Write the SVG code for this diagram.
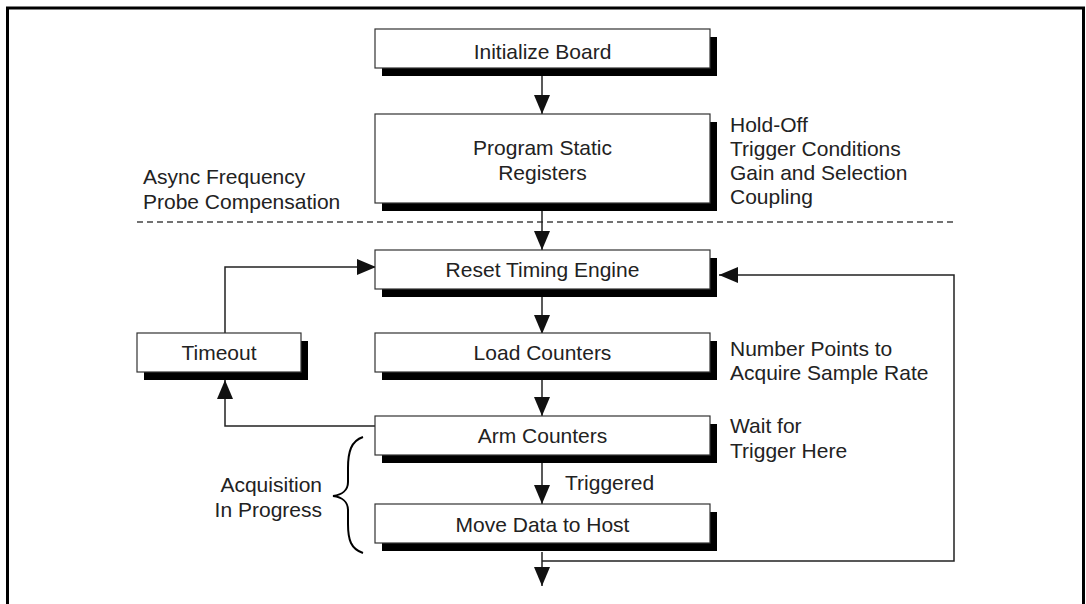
<svg xmlns="http://www.w3.org/2000/svg" width="1086" height="604" viewBox="0 0 1086 604">
  <style>
    .box { fill: #ffffff; stroke: #333333; stroke-width: 1.2; }
    .shadow { fill: #000000; }
    .lbl { font-family: "Liberation Sans", Arial, sans-serif; font-size: 21px; fill: #222222; }
    .mid { text-anchor: middle; }
    .end { text-anchor: end; }
    .wire { fill: none; stroke: #222222; stroke-width: 1.5; }
    .brace { fill: none; stroke: #000000; stroke-width: 2; }
    .frame { fill: none; stroke: #000000; stroke-width: 3; }
    .dash { fill: none; stroke: #444444; stroke-width: 1.5; stroke-dasharray: 6 4; }
  </style>
  <defs>
    <marker id="arrow" markerUnits="userSpaceOnUse" markerWidth="19" markerHeight="16" viewBox="0 0 19 16" refX="19" refY="8" orient="auto">
      <path d="M0,0 L19,8 L0,16 Z" fill="#111111"/>
    </marker>
  </defs>

  <rect width="1086" height="604" fill="#ffffff"/>

  <!-- page frame, open at the bottom -->
  <path class="frame" d="M7.5,604 V8 H1083.5 V604"/>

  <!-- boundary between static setup and the acquisition loop -->
  <line class="dash" x1="137" y1="222" x2="954" y2="222"/>

  <g id="connectors">
    <line class="wire" x1="542" y1="76" x2="542" y2="114" marker-end="url(#arrow)"/>
    <line class="wire" x1="542" y1="210" x2="542" y2="250" marker-end="url(#arrow)"/>
    <line class="wire" x1="542" y1="297" x2="542" y2="334" marker-end="url(#arrow)"/>
    <line class="wire" x1="542" y1="380" x2="542" y2="416" marker-end="url(#arrow)"/>
    <line class="wire" x1="542" y1="463" x2="542" y2="504" marker-end="url(#arrow)"/>
    <line class="wire" x1="542" y1="552" x2="542" y2="586" marker-end="url(#arrow)"/>
    <polyline class="wire" points="542,561 954,561 954,275 719,275" marker-end="url(#arrow)"/>
    <polyline class="wire" points="375,426 225,426 225,380" marker-end="url(#arrow)"/>
    <polyline class="wire" points="225,333 225,267 376,267" marker-end="url(#arrow)"/>
  </g>

  <g id="initialize-board">
    <rect class="shadow" x="382" y="37" width="335" height="39"/>
    <rect class="box" x="375" y="29" width="335" height="39"/>
    <text class="lbl mid" x="542.5" y="59">Initialize Board</text>
  </g>

  <g id="program-static-registers">
    <rect class="shadow" x="382" y="122" width="335" height="89"/>
    <rect class="box" x="375" y="114" width="335" height="89"/>
    <text class="lbl mid" x="542.5" y="155">Program Static</text>
    <text class="lbl mid" x="542.5" y="180">Registers</text>
  </g>

  <g id="reset-timing-engine">
    <rect class="shadow" x="382" y="258" width="335" height="39"/>
    <rect class="box" x="375" y="250" width="335" height="39"/>
    <text class="lbl mid" x="542.5" y="277">Reset Timing Engine</text>
  </g>

  <g id="load-counters">
    <rect class="shadow" x="382" y="341" width="335" height="39"/>
    <rect class="box" x="375" y="333" width="335" height="39"/>
    <text class="lbl mid" x="542.5" y="360">Load Counters</text>
  </g>

  <g id="arm-counters">
    <rect class="shadow" x="382" y="424" width="335" height="39"/>
    <rect class="box" x="375" y="416" width="335" height="39"/>
    <text class="lbl mid" x="542.5" y="443">Arm Counters</text>
  </g>

  <g id="move-data-to-host">
    <rect class="shadow" x="382" y="512" width="335" height="39"/>
    <rect class="box" x="375" y="504" width="335" height="39"/>
    <text class="lbl mid" x="542.5" y="532">Move Data to Host</text>
  </g>

  <g id="timeout">
    <rect class="shadow" x="144" y="341" width="164" height="39"/>
    <rect class="box" x="137" y="333" width="164" height="39"/>
    <text class="lbl mid" x="219" y="360">Timeout</text>
  </g>

  <g id="notes">
    <text class="lbl" x="730" y="132">Hold-Off</text>
    <text class="lbl" x="730" y="156">Trigger Conditions</text>
    <text class="lbl" x="730" y="180">Gain and Selection</text>
    <text class="lbl" x="730" y="204">Coupling</text>

    <text class="lbl" x="143" y="184">Async Frequency</text>
    <text class="lbl" x="143" y="209">Probe Compensation</text>

    <text class="lbl" x="730" y="356">Number Points to</text>
    <text class="lbl" x="730" y="380">Acquire Sample Rate</text>

    <text class="lbl" x="730" y="433">Wait for</text>
    <text class="lbl" x="730" y="458">Trigger Here</text>

    <text class="lbl" x="565" y="490">Triggered</text>

    <text class="lbl end" x="322" y="492">Acquisition</text>
    <text class="lbl end" x="322" y="517">In Progress</text>
  </g>

  <!-- brace grouping the acquisition steps -->
  <path class="brace" d="M363,437 C351,441 348,452 348,468 L348,482 C348,490 342,495 333,496 C342,497 348,502 348,510 L348,524 C348,540 351,549 363,553"/>
</svg>
